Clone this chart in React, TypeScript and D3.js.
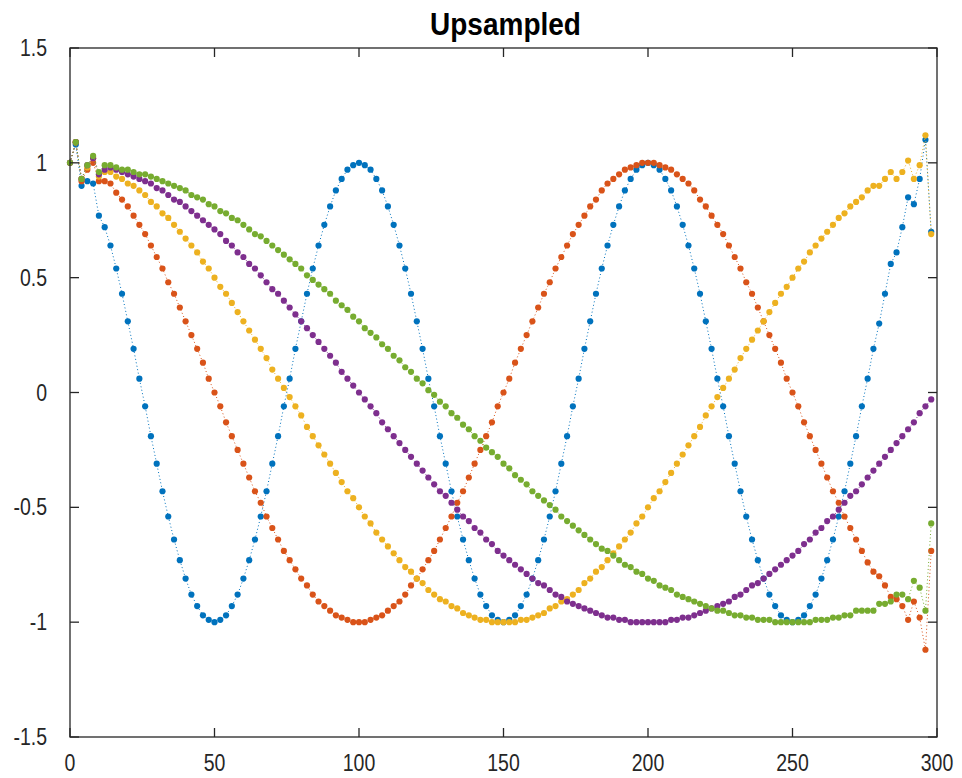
import React from "react";
import * as d3 from "d3";

// x positions: sample index * step
const xStep = 2;
const xTicks = [0, 50, 100, 150, 200, 250, 300];
const yTicks = [-1.5, -1, -0.5, 0, 0.5, 1, 1.5];
const titleText = "Upsampled";

const blue = [
  1.00, 1.08, .90, .92, .91, .77, .72, .64, .54, .43, .31, .19, .06, -.06, -.19, -.31, -.43, -.54, -.64, -.73,
  -.81, -.88, -.93, -.97, -.99, -1.00, -.99, -.97, -.93, -.88, -.81, -.73, -.64, -.54, -.43, -.31, -.19, -.06, .06, .19,
  .31, .43, .54, .64, .73, .81, .88, .93, .97, .99,
  1.00, .99, .97, .93, .88, .81, .73, .64, .54, .43, .31, .19, .06, -.06, -.19, -.31, -.43, -.54, -.64, -.73,
  -.81, -.88, -.93, -.97, -.99, -1.00, -.99, -.97, -.93, -.88, -.81, -.73, -.64, -.54, -.43, -.31, -.19, -.06, .06, .19,
  .31, .43, .54, .64, .73, .81, .88, .93, .97, .99,
  1.00, .99, .97, .93, .88, .81, .73, .64, .54, .43, .31, .19, .06, -.06, -.19, -.31, -.43, -.54, -.64, -.73,
  -.81, -.88, -.93, -.97, -.99, -1.00, -.99, -.97, -.93, -.88, -.81, -.73, -.64, -.54, -.43, -.31, -.19, -.06, .06, .19,
  .30, .43, .56, .61, .72, .85, .82, .93, 1.10, .70,
];

const orange = [
  1.00, 1.09, .92, .97, 1.00, .92, .92, .91, .87, .84, .81, .77, .73, .69, .64, .59, .54, .48, .43, .37,
  .31, .25, .19, .13, .06, 0, -.06, -.13, -.19, -.25, -.31, -.37, -.43, -.48, -.54, -.59, -.64, -.69, -.73, -.77,
  -.81, -.84, -.88, -.91, -.93, -.95, -.97, -.98, -.99, -1.00,
  -1.00, -1.00, -.99, -.98, -.97, -.95, -.93, -.91, -.88, -.84, -.81, -.77, -.73, -.69, -.64, -.59, -.54, -.48, -.43, -.37,
  -.31, -.25, -.19, -.13, -.06, 0, .06, .13, .19, .25, .31, .37, .43, .48, .54, .59, .64, .69, .73, .77,
  .81, .84, .88, .91, .93, .95, .97, .98, .99, 1.00,
  1.00, 1.00, .99, .98, .97, .95, .93, .91, .88, .84, .81, .77, .73, .69, .64, .59, .54, .48, .43, .37,
  .31, .25, .19, .13, .06, 0, -.06, -.13, -.19, -.25, -.31, -.37, -.43, -.48, -.54, -.59, -.64, -.69, -.74, -.78,
  -.80, -.84, -.89, -.90, -.93, -.99, -.91, -.98, -1.12, -.69,
];

const yellow = [
  1.00, 1.09, .93, .98, 1.02, .94, .96, .96, .94, .93, .91, .90, .88, .86, .83, .81, .78, .76, .73, .70,
  .67, .64, .61, .57, .54, .50, .46, .43, .39, .35, .31, .27, .23, .19, .15, .10, .06, .02, -.02, -.06,
  -.10, -.15, -.19, -.23, -.27, -.31, -.35, -.39, -.43, -.46,
  -.50, -.54, -.57, -.61, -.64, -.67, -.70, -.73, -.76, -.78, -.81, -.83, -.86, -.88, -.90, -.91, -.93, -.94, -.96, -.97,
  -.98, -.99, -.99, -1.00, -1.00, -1.00, -1.00, -1.00, -.99, -.99, -.98, -.97, -.96, -.94, -.93, -.91, -.90, -.88, -.86, -.83,
  -.81, -.78, -.76, -.73, -.70, -.67, -.64, -.61, -.57, -.54,
  -.50, -.46, -.43, -.39, -.35, -.31, -.27, -.23, -.19, -.15, -.10, -.06, -.02, .02, .06, .10, .15, .19, .23, .27,
  .31, .35, .39, .43, .46, .50, .54, .57, .61, .64, .67, .70, .73, .76, .78, .81, .83, .85, .88, .90,
  .90, .93, .96, .93, .96, 1.01, .93, .99, 1.12, .69,
];

const purple = [
  1.00, 1.09, .93, .99, 1.02, .95, .97, .98, .97, .96, .95, .94, .93, .92, .91, .89, .88, .86, .84, .83,
  .81, .79, .77, .75, .73, .71, .69, .66, .64, .61, .59, .56, .54, .51, .48, .45, .43, .40, .37, .34,
  .31, .28, .25, .22, .19, .16, .13, .09, .06, .03,
  0, -.03, -.06, -.09, -.13, -.16, -.19, -.22, -.25, -.28, -.31, -.34, -.37, -.40, -.43, -.45, -.48, -.51, -.54, -.56,
  -.59, -.61, -.64, -.66, -.69, -.71, -.73, -.75, -.77, -.79, -.81, -.83, -.84, -.86, -.88, -.89, -.91, -.92, -.93, -.94,
  -.95, -.96, -.97, -.98, -.98, -.99, -.99, -1.00, -1.00, -1.00,
  -1.00, -1.00, -1.00, -1.00, -.99, -.99, -.98, -.98, -.97, -.96, -.95, -.94, -.93, -.92, -.91, -.89, -.88, -.86, -.84, -.83,
  -.81, -.79, -.77, -.75, -.73, -.71, -.69, -.66, -.64, -.61, -.59, -.56, -.54, -.51, -.48, -.45, -.43, -.40, -.37, -.34,
  -.31, -.28, -.25, -.22, -.19, -.16, -.13, -.09, -.06, -.03,
];

const green = [
  1.00, 1.09, .93, .99, 1.03, .96, .99, .99, .98, .97, .97, .96, .95, .95, .94, .93, .92, .91, .90, .89,
  .88, .86, .85, .84, .82, .81, .79, .78, .76, .75, .73, .71, .69, .68, .66, .64, .62, .60, .58, .56,
  .54, .51, .49, .47, .45, .43, .40, .38, .36, .33,
  .31, .28, .26, .24, .21, .19, .16, .14, .11, .09, .06, .04, .01, -.01, -.04, -.06, -.09, -.11, -.14, -.16,
  -.19, -.21, -.24, -.26, -.28, -.31, -.33, -.36, -.38, -.40, -.43, -.45, -.47, -.49, -.51, -.54, -.56, -.58, -.60, -.62,
  -.64, -.66, -.68, -.69, -.71, -.73, -.75, -.76, -.78, -.79,
  -.81, -.82, -.84, -.85, -.86, -.88, -.89, -.90, -.91, -.92, -.93, -.94, -.95, -.95, -.96, -.97, -.97, -.98, -.98, -.99,
  -.99, -.99, -1.00, -1.00, -1.00, -1.00, -1.00, -1.00, -1.00, -.99, -.99, -.99, -.98, -.98, -.97, -.97, -.95, -.95, -.95, -.95,
  -.92, -.92, -.91, -.88, -.88, -.90, -.82, -.85, -.95, -.57,
];

const seriesList = [blue, orange, yellow, purple, green];
const seriesColors = ["#0072BD", "#D95319", "#EDB120", "#7E2F8E", "#77AC30"];

export default function App() {
  const W = 962;
  const H = 778;
  const left = 70, right = 937, top = 48, bottom = 737;
  const x = d3.scaleLinear().domain([0, 300]).range([left, right]);
  const y = d3.scaleLinear().domain([-1.5, 1.5]).range([bottom, top]);
  const line = d3
    .line<number>()
    .x((_, i) => x(i * xStep))
    .y((d) => y(d));
  const axisColor = "#262626";
  const font = "'Liberation Sans', Arial, Helvetica, sans-serif";
  const tickLen = 9;

  return (
    <svg
      width={W}
      height={H}
      style={{ position: "fixed", left: 0, top: 0, background: "#fff" }}
      fontFamily={font}
    >
      <rect x={0} y={0} width={W} height={H} fill="#fff" />
      {seriesList.map((s, si) => (
        <g key={si}>
          <path
            d={line(s) || ""}
            fill="none"
            stroke={seriesColors[si]}
            strokeWidth={1}
            strokeDasharray="1,2.5"
          />
          {s.map((v, i) => (
            <circle key={i} cx={x(i * xStep)} cy={y(v)} r={3.1} fill={seriesColors[si]} />
          ))}
        </g>
      ))}
      <rect
        x={left}
        y={top}
        width={right - left}
        height={bottom - top}
        fill="none"
        stroke={axisColor}
        strokeWidth={1.3}
      />
      {xTicks.map((t) => (
        <g key={"x" + t}>
          <line x1={x(t)} x2={x(t)} y1={bottom} y2={bottom - tickLen} stroke={axisColor} strokeWidth={1.3} />
          <line x1={x(t)} x2={x(t)} y1={top} y2={top + tickLen} stroke={axisColor} strokeWidth={1.3} />
          <text
            textAnchor="middle"
            fontSize={19.5}
            fill={axisColor}
            transform={`translate(${x(t)},771) scale(1,1.18)`}
          >
            {String(t)}
          </text>
        </g>
      ))}
      {yTicks.map((t) => (
        <g key={"y" + t}>
          <line x1={left} x2={left + tickLen} y1={y(t)} y2={y(t)} stroke={axisColor} strokeWidth={1.3} />
          <line x1={right} x2={right - tickLen} y1={y(t)} y2={y(t)} stroke={axisColor} strokeWidth={1.3} />
          <text
            textAnchor="end"
            fontSize={19.5}
            fill={axisColor}
            transform={`translate(47,${y(t) + 8}) scale(1,1.18)`}
          >
            {String(t)}
          </text>
        </g>
      ))}
      <text
        textAnchor="middle"
        fontSize={28}
        fontWeight="bold"
        fill="#000"
        transform={`translate(${(left + right) / 2 + 2},35) scale(1,1.1)`}
      >
        {titleText}
      </text>
    </svg>
  );
}
